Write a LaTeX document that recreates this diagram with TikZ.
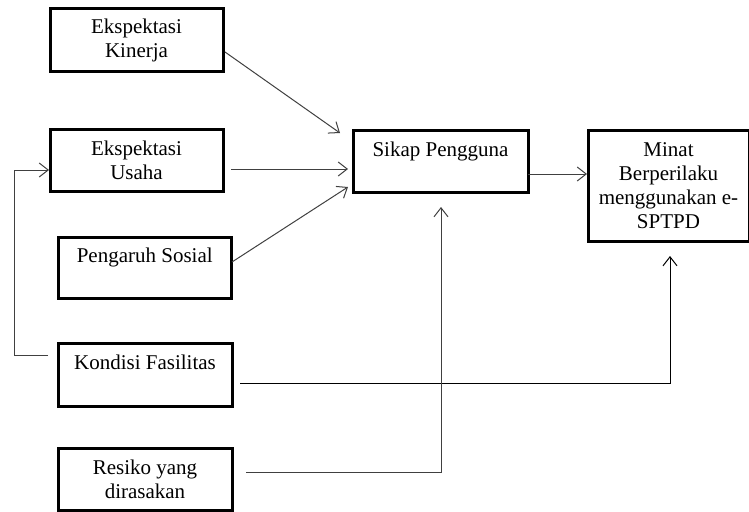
\documentclass[tikz,border=0pt]{standalone}
\usepackage{fontspec}
\setmainfont{Liberation Serif}
\usetikzlibrary{arrows.meta}
\begin{document}
\begin{tikzpicture}[x=1pt,y=-1pt,
  box/.style={draw=black,line width=3pt,inner sep=0pt,outer sep=0pt,align=center,
    font=\fontsize{21}{24}\selectfont},
  conn/.style={draw=black!75,line width=1pt,
    -{Straight Barb[length=9pt,width=14pt,line width=1pt]}},
  link/.style={draw=black!75,line width=1pt}]
\useasboundingbox (0,0) rectangle (749,511);
\node[box,minimum width=173pt,minimum height=62pt] (EK) at (136.5,40) {Ekspektasi\\Kinerja};
\node[box,minimum width=173pt,minimum height=62pt] (EU) at (136.5,160) {Ekspektasi\\Usaha};
\node[box,minimum width=173.5pt,minimum height=61pt] (PS) at (144.75,267.5) {Pengaruh Sosial\\\mbox{}};
\node[box,minimum width=174pt,minimum height=63pt] (KF) at (145,374.5) {Kondisi Fasilitas\\\mbox{}};
\node[box,minimum width=174pt,minimum height=62pt] (RY) at (145,479) {Resiko yang\\dirasakan};
\node[box,minimum width=175pt,minimum height=62pt] (SP) at (440.5,161) {Sikap Pengguna\\\mbox{}};
\node[box,minimum width=161pt,minimum height=111pt] (MB) at (668.5,185.5) {Minat\\Berperilaku\\menggunakan e-\\SPTPD};
% connectors
\draw[conn] ([xshift=2pt,yshift=-12pt]EK.east) -- ([xshift=-13pt,yshift=-3pt]SP.north west);
\draw[conn] ([xshift=8pt,yshift=-9pt]EU.east) -- ([xshift=-5pt,yshift=-8pt]SP.west);
\draw[conn] ([xshift=0.5pt,yshift=5.5pt]PS.east) -- ([xshift=-5pt,yshift=5pt]SP.south west);
\draw[conn] ([xshift=-10pt,yshift=19.5pt]KF.west) -| (14,170) -- ([xshift=-1pt,yshift=-10pt]EU.west);
\draw[conn,draw=black] ([xshift=8pt,yshift=-8.5pt]KF.east) -| ([xshift=1.5pt,yshift=-15pt]MB.south);
\draw[conn] ([xshift=14pt,yshift=7pt]RY.east) -| ([xshift=0.5pt,yshift=-15pt]SP.south);
\draw[conn] ([yshift=-13pt]SP.east) -- ([xshift=-1pt,yshift=11.5pt]MB.west);
\end{tikzpicture}
\end{document}
